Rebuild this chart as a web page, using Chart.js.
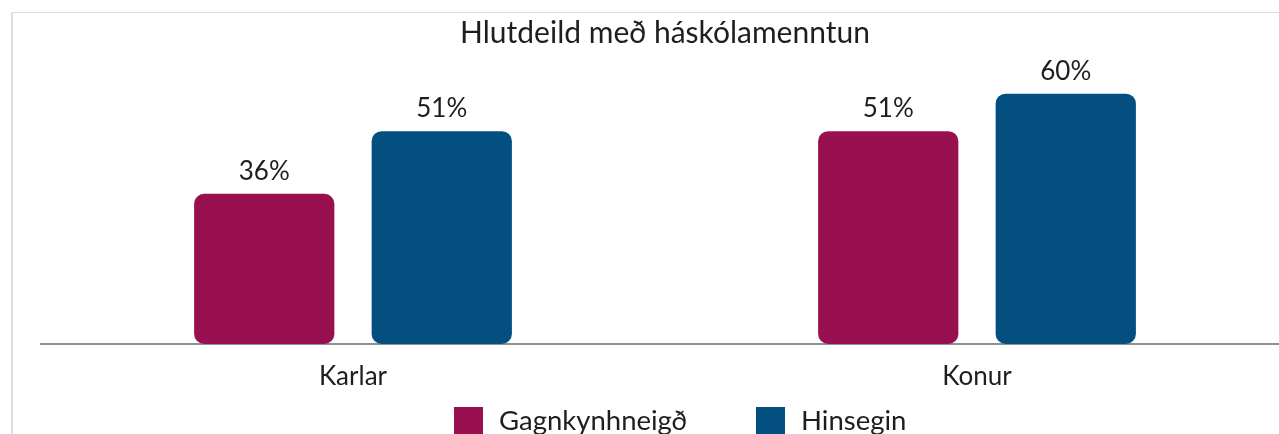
<!DOCTYPE html>
<html>
<head>
<meta charset="utf-8">
<script src="https://cdn.jsdelivr.net/npm/chart.js@4"></script>
<style>
  html, body { margin: 0; padding: 0; background: #fff; overflow: hidden; width: 1279px; height: 434px; }
  #frame { position: absolute; left: 11px; top: 12px; width: 1330px; height: 460px;
           border-left: 2px solid #dadde9; border-top: 1px solid #dadde9; }
  #c { position: absolute; left: 0; top: 0; }
</style>
</head>
<body>
<div id="frame"><canvas id="c" width="1304" height="450"></canvas></div>
<script>
const categories = ['Karlar', 'Konur'];
const seriesNames = ['Gagnkynhneigð', 'Hinsegin'];
const straightValues = [36, 51];
const queerValues = [51, 60];
const seriesColors = ['#98104f', '#024f80'];
const chartTitle = 'Hlutdeild með háskólamenntun';

const FONT = 'Lato, "Open Sans", sans-serif';
const TEXT = '#1e1e1e';

const valueLabels = {
  id: 'valueLabels',
  afterDatasetsDraw(chart) {
    const ctx = chart.ctx;
    ctx.save();
    ctx.font = '26px ' + FONT;
    ctx.fillStyle = TEXT;
    ctx.textAlign = 'center';
    ctx.textBaseline = 'alphabetic';
    chart.data.datasets.forEach((ds, i) => {
      const meta = chart.getDatasetMeta(i);
      meta.data.forEach((bar, j) => {
        ctx.fillText(ds.data[j] + '%', bar.x, bar.y - 14);
      });
    });
    ctx.restore();
  }
};

// Legend drawn below the x axis labels (custom spacing)
const bottomLegend = {
  id: 'bottomLegend',
  afterDraw(chart) {
    const ctx = chart.ctx;
    const box = 29, gapText = 16, gapItems = 69;
    ctx.save();
    ctx.font = '27.5px ' + FONT;
    const items = chart.data.datasets.map(ds => ({
      text: ds.label, color: ds.backgroundColor, w: ctx.measureText(ds.label).width
    }));
    let total = 0;
    items.forEach((it, i) => { total += box + gapText + it.w + (i ? gapItems : 0); });
    const ca = chart.chartArea;
    let x = Math.round((ca.left + ca.right) / 2 + 15 - total / 2);
    const top = ca.bottom + 63;
    ctx.textBaseline = 'middle';
    ctx.textAlign = 'left';
    items.forEach(it => {
      ctx.fillStyle = it.color;
      ctx.fillRect(x, top, box, box);
      ctx.fillStyle = TEXT;
      ctx.fillText(it.text, x + box + gapText, top + box / 2);
      x = Math.round(x + box + gapText + it.w + gapItems);
    });
    ctx.restore();
  }
};

new Chart(document.getElementById('c'), {
  type: 'bar',
  data: {
    labels: categories,
    datasets: [
      { label: seriesNames[0], data: straightValues, backgroundColor: seriesColors[0],
        borderRadius: 10, borderSkipped: false },
      { label: seriesNames[1], data: queerValues, backgroundColor: seriesColors[1],
        borderRadius: 10, borderSkipped: false }
    ]
  },
  options: {
    responsive: false,
    animation: false,
    devicePixelRatio: 1,
    categoryPercentage: 0.569,
    barPercentage: 0.79,
    layout: { padding: { left: 28, right: 28, top: 0, bottom: 69 } },
    plugins: {
      title: {
        display: true, text: chartTitle, color: TEXT,
        font: { family: FONT, size: 30, weight: 'normal' },
        padding: { top: 2, bottom: 3 }
      },
      legend: { display: false },
      tooltip: { enabled: false }
    },
    scales: {
      x: {
        grid: { display: false, drawTicks: false },
        border: { display: true, color: '#8e9099', width: 2 },
        ticks: { color: TEXT, font: { family: FONT, size: 26 }, padding: 17 },
        afterFit(scale) { scale.height = 50; }
      },
      y: { display: false, min: 0, max: 69.5 }
    }
  },
  plugins: [valueLabels, bottomLegend]
});
</script>
</body>
</html>
